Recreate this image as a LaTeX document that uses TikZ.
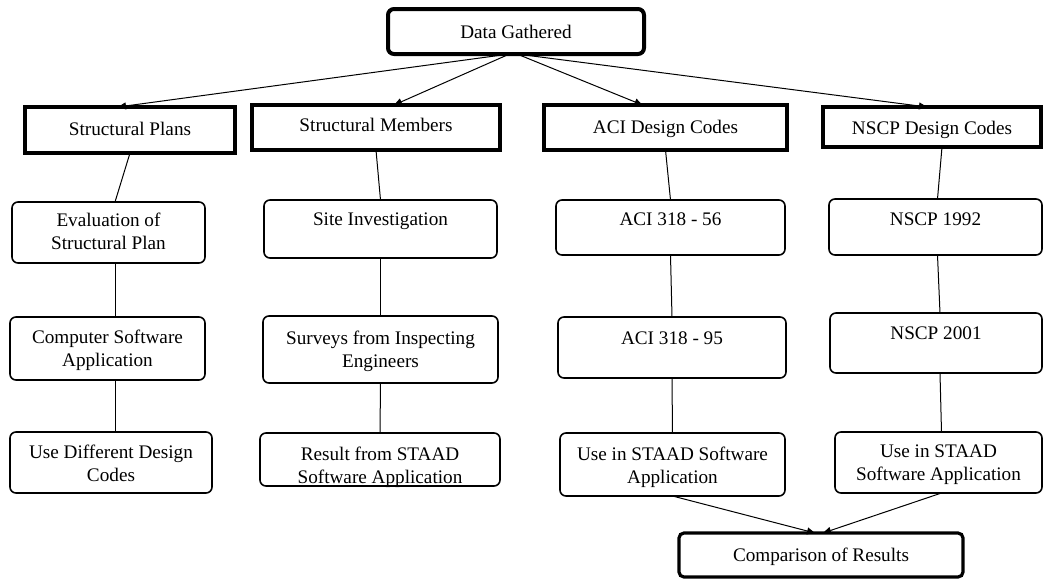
\documentclass[tikz,border=0pt]{standalone}
\usepackage{fontspec}
\setmainfont{Liberation Serif}
\usetikzlibrary{arrows.meta}
\newcommand\bx[8]{%
  \pgfmathsetmacro\bxw{(#5-#3)*0.5}%
  \pgfmathsetmacro\bxh{(#6-#4)*0.5}%
  \pgfmathsetmacro\bxcx{(#3+#5)/2}%
  \pgfmathsetmacro\bxcy{(#4+#6)/2}%
  \pgfmathsetmacro\bxp{#7*0.5}%
  \node[#1, minimum width=\bxw pt, minimum height=\bxh pt] (#2) at (\bxcx,\bxcy)
    {\parbox[c][\bxh pt][t]{\bxw pt}{\centering\vspace*{\bxp pt}#8\par}};%
}
\tikzset{
  base/.style={inner sep=0pt, outer sep=0pt, font=\fontsize{9.6}{11.5}\selectfont},
  thickbox/.style={base, draw, line width=2.2pt},
  dgbox/.style={base, draw, line width=2pt, rounded corners=3pt},
  crbox/.style={base, draw, line width=1.6pt, rounded corners=2.5pt},
  rbox/.style={base, draw, line width=0.8pt, rounded corners=3pt},
  link/.style={line width=0.5pt},
  arr/.style={link, -{Triangle[length=4pt,width=3.5pt]}}
}
\begin{document}
\begin{tikzpicture}[x=0.5pt,y=-0.5pt]
\useasboundingbox (0,0) rectangle (1045,580);
% top
\bx{dgbox}{dg}{388}{9}{644}{54}{16}{Data Gathered}
% second row (thick)
\bx{thickbox}{sp}{25}{107}{235}{153}{15}{Structural Plans}
\bx{thickbox}{sm}{252}{105}{500}{150}{13}{Structural Members}
\bx{thickbox}{acd}{544}{105}{787}{150}{15}{ACI Design Codes}
\bx{thickbox}{ncd}{823}{107}{1041}{147}{14}{NSCP Design Codes}
% row 3
\bx{rbox}{ev}{12}{202}{205}{263}{11}{Evaluation of\\Structural Plan}
\bx{rbox}{si}{264}{200}{497}{258}{13}{Site Investigation}
\bx{rbox}{a56}{556}{200}{785}{255}{13}{ACI 318 - 56}
\bx{rbox}{n92}{829}{199}{1042}{255}{14}{NSCP 1992}
% row 4
\bx{rbox}{cs}{10}{317}{205}{380}{13}{Computer Software\\Application}
\bx{rbox}{sv}{263}{316}{498}{383}{15}{Surveys from Inspecting\\Engineers}
\bx{rbox}{a95}{558}{317}{786}{378}{15}{ACI 318 - 95}
\bx{rbox}{n01}{830}{313}{1042}{373}{14}{NSCP 2001}
% row 5
\bx{rbox}{ud}{10}{432}{212}{493}{13}{Use Different Design\\Codes}
\bx{rbox}{rs}{260}{433}{500}{486}{14}{Result from STAAD\\Software Application}
\bx{rbox}{u3}{560}{433}{785}{496}{14}{Use in STAAD Software\\Application}
\bx{rbox}{u4}{835}{432}{1042}{493}{13}{Use in STAAD\\Software Application}
% bottom
\bx{crbox}{cr}{679}{533}{963}{577}{15}{Comparison of Results}
% arrows from top
\draw[arr] ([xshift=-3.25pt]dg.south) -- ([xshift=-6pt]sp.north);
\draw[arr] ([xshift=-3.25pt]dg.south) -- ([xshift=9pt]sm.north);
\draw[arr] ([xshift=0.5pt]dg.south) -- ([xshift=-11.5pt]acd.north);
\draw[arr] ([xshift=0.5pt]dg.south) -- ([xshift=-2.5pt]ncd.north);
% column 1
\draw[link] (sp.south) -- ([xshift=3.25pt]ev.north);
\draw[link] ([xshift=3.25pt]ev.south) -- ([xshift=3.75pt]cs.north);
\draw[link] ([xshift=3.75pt]cs.south) -- ([xshift=2pt]ud.north);
% column 2
\draw[link] (sm.south) -- (si.north);
\draw[link] (si.south) -- (sv.north);
\draw[link] (sv.south) -- (rs.north);
% column 3
\draw[link] (acd.south) -- (a56.north);
\draw[link] (a56.south) -- (a95.north);
\draw[link] (a95.south) -- (u3.north);
% column 4
\draw[link] ([xshift=5pt]ncd.south) -- ([xshift=1pt]n92.north);
\draw[link] ([xshift=1pt]n92.south) -- ([xshift=2pt]n01.north);
\draw[link] ([xshift=2pt]n01.south) -- ([xshift=1.5pt]u4.north);
% to comparison
\draw[arr] (u3.south) -- ([xshift=-3pt]cr.north);
\draw[arr] ([xshift=1.5pt]u4.south) -- ([xshift=1pt]cr.north);
\end{tikzpicture}
\end{document}
